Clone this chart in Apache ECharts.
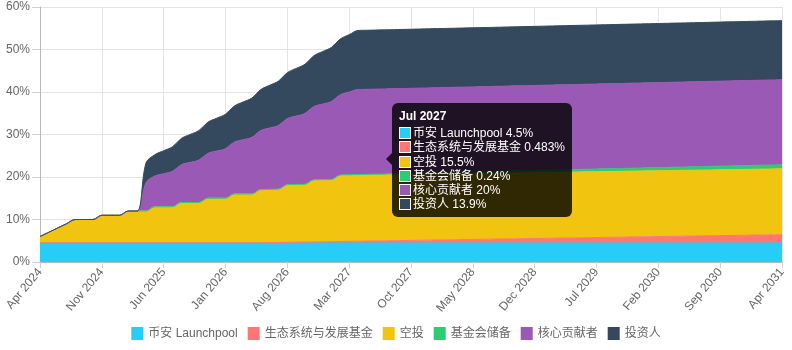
<!DOCTYPE html>
<html>
<head>
<meta charset="utf-8">
<script src="https://cdn.jsdelivr.net/npm/echarts@6/dist/echarts.min.js"></script>
<style>
  html, body { margin: 0; padding: 0; background: #fff; }
  #chart { width: 792px; height: 350px; }
</style>
</head>
<body>
<div id="chart"></div>
<script>
var chartDom = document.getElementById('chart');
var myChart = echarts.init(chartDom);

// months, Apr 2024 .. Apr 2031
var months = [
  'Apr 2024','May 2024','Jun 2024','Jul 2024','Aug 2024','Sep 2024','Oct 2024','Nov 2024','Dec 2024',
  'Jan 2025','Feb 2025','Mar 2025','Apr 2025','May 2025','Jun 2025','Jul 2025','Aug 2025','Sep 2025','Oct 2025','Nov 2025','Dec 2025',
  'Jan 2026','Feb 2026','Mar 2026','Apr 2026','May 2026','Jun 2026','Jul 2026','Aug 2026','Sep 2026','Oct 2026','Nov 2026','Dec 2026',
  'Jan 2027','Feb 2027','Mar 2027','Apr 2027','May 2027','Jun 2027','Jul 2027','Aug 2027','Sep 2027','Oct 2027','Nov 2027','Dec 2027',
  'Jan 2028','Feb 2028','Mar 2028','Apr 2028','May 2028','Jun 2028','Jul 2028','Aug 2028','Sep 2028','Oct 2028','Nov 2028','Dec 2028',
  'Jan 2029','Feb 2029','Mar 2029','Apr 2029','May 2029','Jun 2029','Jul 2029','Aug 2029','Sep 2029','Oct 2029','Nov 2029','Dec 2029',
  'Jan 2030','Feb 2030','Mar 2030','Apr 2030','May 2030','Jun 2030','Jul 2030','Aug 2030','Sep 2030','Oct 2030','Nov 2030','Dec 2030',
  'Jan 2031','Feb 2031','Mar 2031','Apr 2031'
];

var seriesNames = ['币安 Launchpool', '生态系统与发展基金', '空投', '基金会储备', '核心贡献者', '投资人'];
var colors = ['#27cdf6', '#ff7675', '#f1c40f', '#2ecc71', '#9b59b6', '#34495e'];

var launchpool = [
  4.5,4.5,4.5,4.5,4.5,4.5,4.5,4.5,4.5,4.5,4.5,4.5,4.5,4.5,4.5,4.5,4.5,4.5,4.5,4.5,4.5,
  4.5,4.5,4.5,4.5,4.5,4.5,4.5,4.5,4.5,4.5,4.5,4.5,4.5,4.5,4.5,4.5,4.5,4.5,4.5,4.5,4.5,
  4.5,4.5,4.5,4.5,4.5,4.5,4.5,4.5,4.5,4.5,4.5,4.5,4.5,4.5,4.5,4.5,4.5,4.5,4.5,4.5,4.5,
  4.5,4.5,4.5,4.5,4.5,4.5,4.5,4.5,4.5,4.5,4.5,4.5,4.5,4.5,4.5,4.5,4.5,4.5,4.5,4.5,4.5,4.5
];

var ecosystem = [
  0,0,0,0,0,0,0,0,0,0,0,0,0,0,0,0,0,0,0,0,0,0,0,0,0,
  0.032,0.064,0.097,0.129,0.161,0.193,0.225,0.258,0.29,0.322,0.354,0.386,0.419,0.451,0.483,
  0.515,0.547,0.58,0.612,0.644,0.676,0.708,0.741,0.773,0.805,0.837,0.869,0.902,0.934,0.966,
  0.998,1.03,1.063,1.095,1.127,1.159,1.191,1.224,1.256,1.288,1.32,1.352,1.385,1.417,1.449,
  1.481,1.513,1.546,1.578,1.61,1.642,1.674,1.707,1.739,1.771,1.803,1.835,1.868,1.9,1.932
];

var airdrop = [
  1.5,2.5,3.5,4.5,5.5,5.5,5.5,6.5,6.5,6.5,7.5,7.5,7.5,8.5,8.5,8.5,9.5,9.5,9.5,10.5,10.5,10.5,
  11.5,11.5,11.5,12.5,12.5,12.5,13.5,13.5,13.5,14.5,14.5,14.5,15.5,15.5,15.5,15.5,15.5,15.5,
  15.5,15.5,15.5,15.5,15.5,15.5,15.5,15.5,15.5,15.5,15.5,15.5,15.5,15.5,15.5,15.5,15.5,15.5,
  15.5,15.5,15.5,15.5,15.5,15.5,15.5,15.5,15.5,15.5,15.5,15.5,15.5,15.5,15.5,15.5,15.5,15.5,
  15.5,15.5,15.5,15.5,15.5,15.5,15.5,15.5,15.5
];

var foundation = [
  0,0,0,0,0,0,0,0,0,0,0,0,0,0,0,0,0,0,0,0,0,0,0,0,0,
  0.016,0.032,0.048,0.064,0.08,0.096,0.112,0.128,0.144,0.16,0.176,0.192,0.208,0.224,0.24,
  0.256,0.272,0.288,0.304,0.32,0.336,0.352,0.368,0.384,0.4,0.416,0.432,0.448,0.464,0.48,
  0.496,0.512,0.528,0.544,0.56,0.576,0.592,0.608,0.624,0.64,0.656,0.672,0.688,0.704,0.72,
  0.736,0.752,0.768,0.784,0.8,0.816,0.832,0.848,0.864,0.88,0.896,0.912,0.928,0.944,0.96
];

var core = [
  0,0,0,0,0,0,0,0,0,0,0,0,
  6.667,7.222,7.778,8.333,8.889,9.444,10,10.556,11.111,11.667,12.222,12.778,
  13.333,13.889,14.444,15,15.556,16.111,16.667,17.222,17.778,18.333,18.889,19.444,
  20,20,20,20,20,20,20,20,20,20,20,20,20,20,20,20,20,20,20,20,20,20,20,20,
  20,20,20,20,20,20,20,20,20,20,20,20,20,20,20,20,20,20,20,20,20,20,20,20,20
];

var investors = [
  0,0,0,0,0,0,0,0,0,0,0,0,
  4.633,5.019,5.406,5.792,6.178,6.564,6.95,7.336,7.722,8.108,8.494,8.881,
  9.267,9.653,10.039,10.425,10.811,11.197,11.583,11.969,12.356,12.742,13.128,13.514,
  13.9,13.9,13.9,13.9,13.9,13.9,13.9,13.9,13.9,13.9,13.9,13.9,13.9,13.9,13.9,13.9,
  13.9,13.9,13.9,13.9,13.9,13.9,13.9,13.9,13.9,13.9,13.9,13.9,13.9,13.9,13.9,13.9,
  13.9,13.9,13.9,13.9,13.9,13.9,13.9,13.9,13.9,13.9,13.9,13.9,13.9,13.9,13.9,13.9,13.9
];

var yTicks = [0, 10, 20, 30, 40, 50, 60];

var FONT = '"Liberation Sans", Arial, "Noto Sans CJK SC", sans-serif';

function _plotFigure() {
    var allData = [launchpool, ecosystem, airdrop, foundation, core, investors];
    var series = allData.map(function (d, i) {
        return {
            name: seriesNames[i],
            type: 'line',
            stack: 'total',
            data: d,
            smooth: 0.35,
            symbol: 'none',
            lineStyle: { width: 1, color: colors[i] },
            itemStyle: { color: colors[i] },
            areaStyle: { color: colors[i], opacity: 1 },
            emphasis: { disabled: true }
        };
    });

    let option = {
        animation: false,
        textStyle: { fontFamily: FONT },
        grid: { left: 40, right: 10, top: 7, bottom: 88 },
        legend: {
            data: seriesNames,
            top: 322,
            itemWidth: 12,
            itemHeight: 13,
            itemGap: 10,
            icon: 'rect',
            textStyle: { color: '#666', fontSize: 12, fontFamily: FONT }
        },
        tooltip: {
            trigger: 'axis',
            axisPointer: { type: 'none' },
            alwaysShowContent: true,
            transitionDuration: 0,
            backgroundColor: 'rgba(0,0,0,0.8)',
            borderWidth: 0,
            padding: [5, 7],
            extraCssText: 'border-radius:6px;box-shadow:none;overflow:visible;',
            textStyle: { color: '#fff', fontSize: 12, fontFamily: FONT },
            position: function () { return [392, 103]; },
            formatter: function (params) {
                var html = '<div style="position:absolute;left:-6px;top:50px;width:0;height:0;' +
                    'border-top:6px solid transparent;border-bottom:6px solid transparent;' +
                    'border-right:6px solid rgba(0,0,0,0.8);"></div>';
                html += '<div style="font-weight:bold;line-height:16px;margin-bottom:2px;">' + params[0].axisValue + '</div>';
                params.forEach(function (p) {
                    html += '<div style="line-height:14.3px;white-space:nowrap;">' +
                        '<span style="display:inline-block;width:10px;height:10px;background:' + p.color +
                        ';border:1px solid #fff;margin-right:2px;vertical-align:-2px;"></span>' +
                        p.seriesName + ' ' + p.value + '%</div>';
                });
                return html;
            }
        },
        xAxis: {
            type: 'category',
            boundaryGap: false,
            data: months,
            axisLine: { lineStyle: { color: '#b8b8b8' } },
            axisTick: { show: true, interval: 6, length: 6, lineStyle: { color: '#d0d0d0' } },
            axisLabel: {
                interval: 6,
                rotate: 50,
                color: '#666',
                fontSize: 12,
                margin: 8,
                fontFamily: FONT
            },
            splitLine: { show: true, interval: 6, lineStyle: { color: '#e4e4e4' } }
        },
        yAxis: {
            type: 'value',
            min: yTicks[0],
            max: yTicks[yTicks.length - 1],
            interval: 10,
            axisLine: { show: true, lineStyle: { color: '#b8b8b8' } },
            axisTick: { show: true, length: 8, lineStyle: { color: '#d0d0d0' } },
            axisLabel: { formatter: '{value}%', color: '#666', fontSize: 12, margin: 10, fontFamily: FONT },
            splitLine: { show: true, lineStyle: { color: '#e4e4e4' } }
        },
        series: series
    };

    myChart.setOption(option);
    myChart.dispatchAction({ type: 'showTip', seriesIndex: 0, dataIndex: 39 });
}

_plotFigure();
</script>
</body>
</html>
